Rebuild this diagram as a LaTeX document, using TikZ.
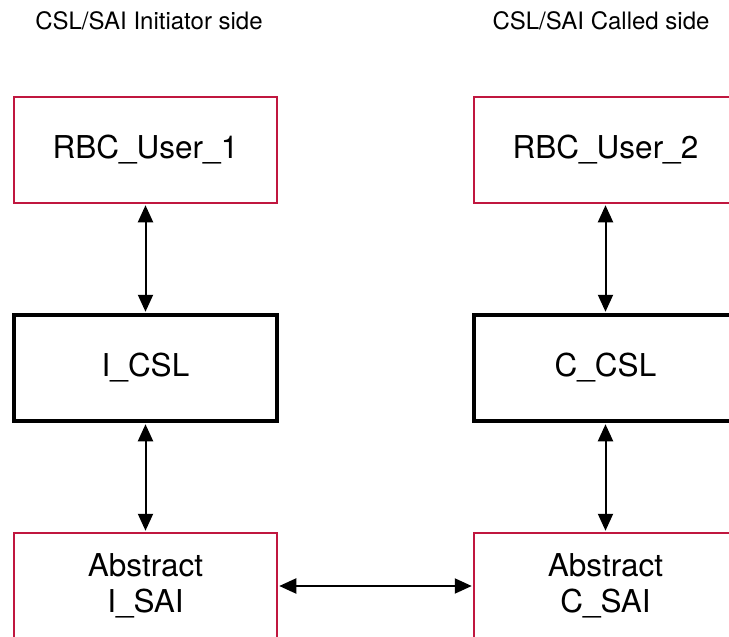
\documentclass[tikz,border=0pt]{standalone}
\usepackage{fontspec}
\setmainfont{TeX Gyre Heros}
\usetikzlibrary{arrows.meta}
\definecolor{boxred}{HTML}{C0173F}
\begin{document}
\begin{tikzpicture}[x=1pt,y=-1pt,
  redbox/.style={draw=boxred,line width=1.5pt,minimum width=263pt,minimum height=106pt,inner sep=0pt,align=center,font=\fontsize{31.5}{36}\selectfont},
  thickbox/.style={draw=black,line width=3.5pt,minimum width=263pt,minimum height=106pt,inner sep=0pt,align=center,font=\fontsize{31.5}{36}\selectfont},
  title/.style={font=\fontsize{24}{28}\selectfont,inner sep=0pt},
  biarrow/.style={line width=2pt,{Triangle[length=17pt,width=15pt]}-{Triangle[length=17pt,width=15pt]},shorten <=1.5pt,shorten >=1.5pt}]
\clip (0,0) rectangle (729,637);
\fill[white] (0,0) rectangle (729,637);
\node[title] (t1) at (149,21) {CSL/SAI Initiator side};
\node[title] (t2) at (601,21) {CSL/SAI Called side};
\node[redbox] (u1) at (145.5,150) {RBC\_User\_1};
\node[redbox] (u2) at (605.5,150) {RBC\_User\_2};
\node[thickbox] (c1) at (145.5,368) {I\_CSL};
\node[thickbox] (c2) at (605.5,368) {C\_CSL};
\node[redbox] (s1) at (145.5,586) {Abstract\\I\_SAI};
\node[redbox] (s2) at (605.5,586) {Abstract\\C\_SAI};
\draw[biarrow] (u1) -- (c1);
\draw[biarrow] (c1) -- (s1);
\draw[biarrow] (u2) -- (c2);
\draw[biarrow] (c2) -- (s2);
\draw[biarrow] (s1) -- (s2);
\end{tikzpicture}
\end{document}
